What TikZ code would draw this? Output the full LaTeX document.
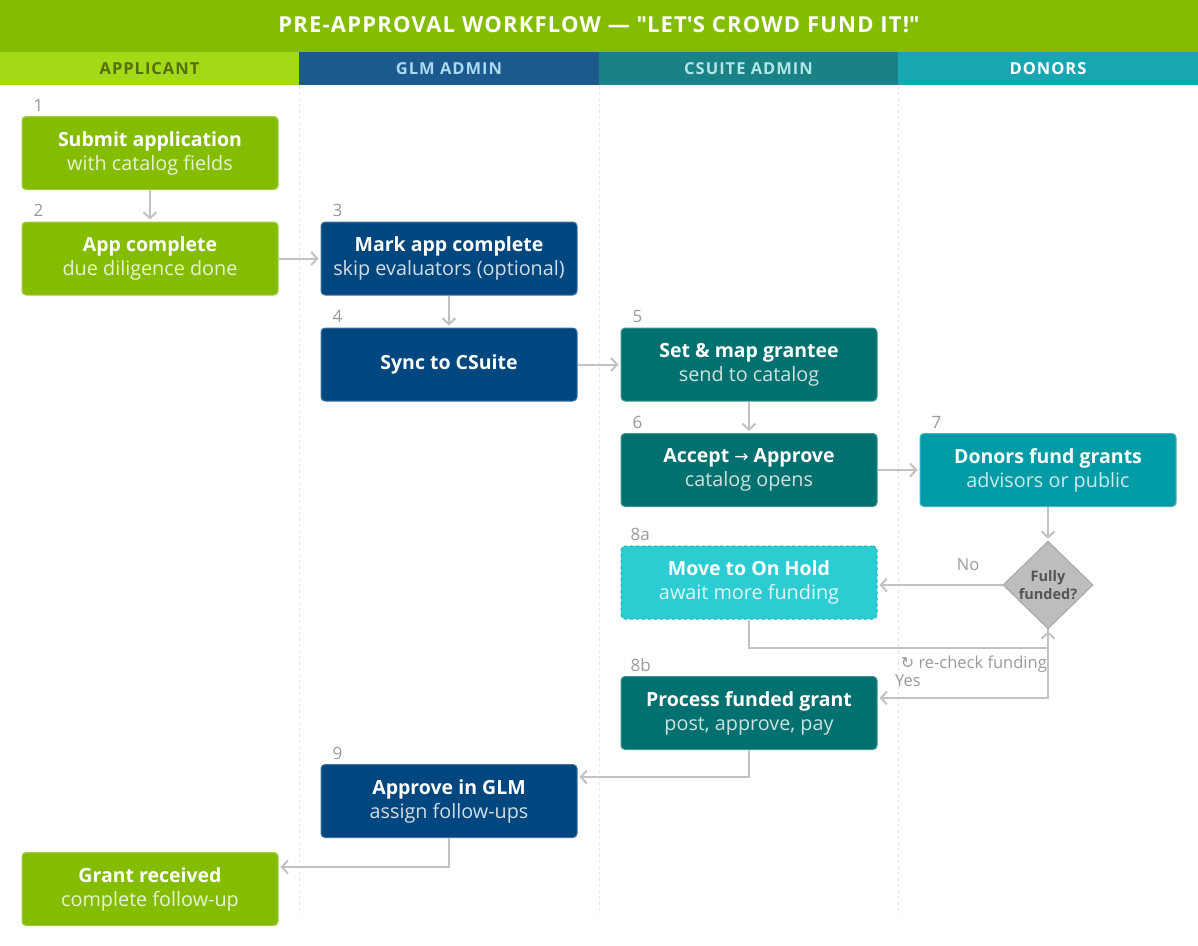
\documentclass[tikz,border=0pt]{standalone}
\usepackage{fontspec}
\setmainfont{Open Sans}
\newfontfamily\dejavu{DejaVu Sans}
\usetikzlibrary{arrows.meta,shapes.geometric,calc}
\definecolor{titlegreen}{HTML}{84BD00}
\definecolor{laneA}{HTML}{A2DA18}
\definecolor{laneAtext}{HTML}{556F10}
\definecolor{laneB}{HTML}{1C5A8E}
\definecolor{laneBtext}{HTML}{A9D9F2}
\definecolor{laneC}{HTML}{1A8287}
\definecolor{laneCtext}{HTML}{B2E6E6}
\definecolor{laneD}{HTML}{18A6B0}
\definecolor{cgreen}{HTML}{84BD00}
\definecolor{cblue}{HTML}{00467F}
\definecolor{cteal}{HTML}{00716F}
\definecolor{cdonor}{HTML}{009CA6}
\definecolor{chold}{HTML}{2CCCD3}
\definecolor{choldline}{HTML}{1FB2BA}
\definecolor{dfill}{HTML}{BDBDBD}
\definecolor{dline}{HTML}{A6A6A6}
\definecolor{dtext}{HTML}{555555}
\definecolor{arrgray}{HTML}{C2C2C2}
\definecolor{numgray}{HTML}{9A9A9A}
\definecolor{sepgray}{HTML}{E6E6E6}
\newcommand{\twol}[3]{{\bfseries #1}\\{\fontsize{19.8}{24}\selectfont\color{#3}#2}}
\begin{document}
\begin{tikzpicture}[x=1pt,y=-1pt,
  box/.style={rectangle, rounded corners=4pt, minimum width=256pt, minimum height=73pt,
    align=center, text=white, inner sep=0pt, line width=1pt,
    font=\fontsize{19.5}{24}\selectfont},
  gbox/.style={box, fill=cgreen, draw=cgreen!75!white},
  bbox/.style={box, fill=cblue, draw=cblue!75!white},
  tbox/.style={box, fill=cteal, draw=cteal!75!white},
  dbox/.style={box, fill=cdonor, draw=cdonor!75!white},
  hbox/.style={box, fill=chold, draw=choldline, dashed},
  num/.style={font=\fontsize{17}{19}\selectfont, text=numgray, anchor=base west, inner sep=0pt},
  arr/.style={draw=arrgray, line width=2pt, -{Straight Barb[length=6pt,width=13pt]}, shorten >=2pt},
  lanehead/.style={font=\bfseries\fontsize{16.5}{18}\selectfont\addfontfeature{LetterSpace=6}},
  sep/.style={draw=sepgray, line width=1pt, dashed},
  lbl/.style={font=\fontsize{16.5}{18}\selectfont, text=numgray, inner sep=0pt}
]
\useasboundingbox (0,0) rectangle (1198,945);
\fill[white] (0,0) rectangle (1198,945);
% title
\fill[titlegreen] (0,0) rectangle (1198,52);
\node[font=\bfseries\fontsize{22}{24}\selectfont\addfontfeature{LetterSpace=5.5}, text=white] (title) at (599,25)
  {PRE-APPROVAL WORKFLOW — \textquotedbl LET\textquotesingle S CROWD FUND IT!\textquotedbl};
% lanes
\fill[laneA] (0,52) rectangle (299,85);
\fill[laneB] (299,52) rectangle (599,85);
\fill[laneC] (599,52) rectangle (898,85);
\fill[laneD] (898,52) rectangle (1198,85);
\node[lanehead, text=laneAtext] (hA) at (149.5,69) {APPLICANT};
\node[lanehead, text=laneBtext] (hB) at (449,69) {GLM ADMIN};
\node[lanehead, text=laneCtext] (hC) at (748.5,69) {CSUITE ADMIN};
\node[lanehead, text=white] (hD) at (1048,69) {DONORS};
\draw[sep] (299,86) -- (299,915);
\draw[sep] (599,86) -- (599,915);
\draw[sep] (898,86) -- (898,915);
% nodes
\node[gbox] (n1) at (150,153) {\twol{Submit application}{with catalog fields}{white!82!cgreen}};
\node[gbox] (n2) at (150,258.5) {\twol{App complete}{due diligence done}{white!82!cgreen}};
\node[bbox] (n3) at (449,258.5) {\twol{Mark app complete}{skip evaluators (optional)}{white!82!cblue}};
\node[bbox] (n4) at (449,364.5) {\bfseries Sync to CSuite};
\node[tbox] (n5) at (749,364.5) {\twol{Set \& map grantee}{send to catalog}{white!80!cteal}};
\node[tbox] (n6) at (749,470) {\twol{Accept {\dejavu\mdseries\fontsize{17}{18}\selectfont →} Approve}{catalog opens}{white!80!cteal}};
\node[dbox] (n7) at (1048,470) {\twol{Donors fund grants}{advisors or public}{white!80!cdonor}};
\node[hbox] (n8a) at (749,582.5) {\twol{Move to On Hold}{await more funding}{white!85!chold}};
\node[diamond, fill=dfill, draw=dline, line width=1pt, minimum width=90pt, minimum height=84pt,
  inner sep=0pt, align=center, text=dtext, font=\bfseries\fontsize{14.5}{18}\selectfont] (dia) at (1048,585) {Fully\\funded?};
\node[tbox] (n8b) at (749,713) {\twol{Process funded grant}{post, approve, pay}{white!80!cteal}};
\node[bbox] (n9) at (449,801) {\twol{Approve in GLM}{assign follow-ups}{white!82!cblue}};
\node[gbox] (ng) at (150,889) {\twol{Grant received}{complete follow-up}{white!82!cgreen}};
% numbers
\node[num] (l1) at ($(n1.north west)+(12,-5)$) {1};
\node[num] (l2) at ($(n2.north west)+(12,-5)$) {2};
\node[num] (l3) at ($(n3.north west)+(12,-5)$) {3};
\node[num] (l4) at ($(n4.north west)+(12,-5)$) {4};
\node[num] (l5) at ($(n5.north west)+(12,-5)$) {5};
\node[num] (l6) at ($(n6.north west)+(12,-5)$) {6};
\node[num] (l7) at ($(n7.north west)+(12,-5)$) {7};
\node[num] (l8a) at ($(n8a.north west)+(10,-5)$) {8a};
\node[num] (l8b) at ($(n8b.north west)+(10,-5)$) {8b};
\node[num] (l9) at ($(n9.north west)+(12,-5)$) {9};
% connectors
\draw[arr] (n1) -- (n2);
\draw[arr] (n2) -- (n3);
\draw[arr] (n3) -- (n4);
\draw[arr] (n4) -- (n5);
\draw[arr] (n5) -- (n6);
\draw[arr] (n6) -- (n7);
\draw[arr] (n7) -- (dia);
\draw[arr] (dia.west) -- (dia.west -| n8a.east);
\draw[arr] (n8a.south) -- ++(0,28) -| (dia.south);
\draw[arr] (dia.south) |- ([yshift=15pt]n8b.east);
\draw[arr] (n8b.south) |- ([yshift=24pt]n9.east);
\draw[arr] (n9.south) |- ([yshift=22pt]ng.east);
% labels
\node[lbl] (no) at (968,565) {No};
\node[lbl, anchor=east] (rc) at (1047,664) {{\dejavu\fontsize{16}{18}\selectfont ↻} re-check funding};
\node[lbl, anchor=west] (yes) at (895,681) {Yes};
\end{tikzpicture}
\end{document}
